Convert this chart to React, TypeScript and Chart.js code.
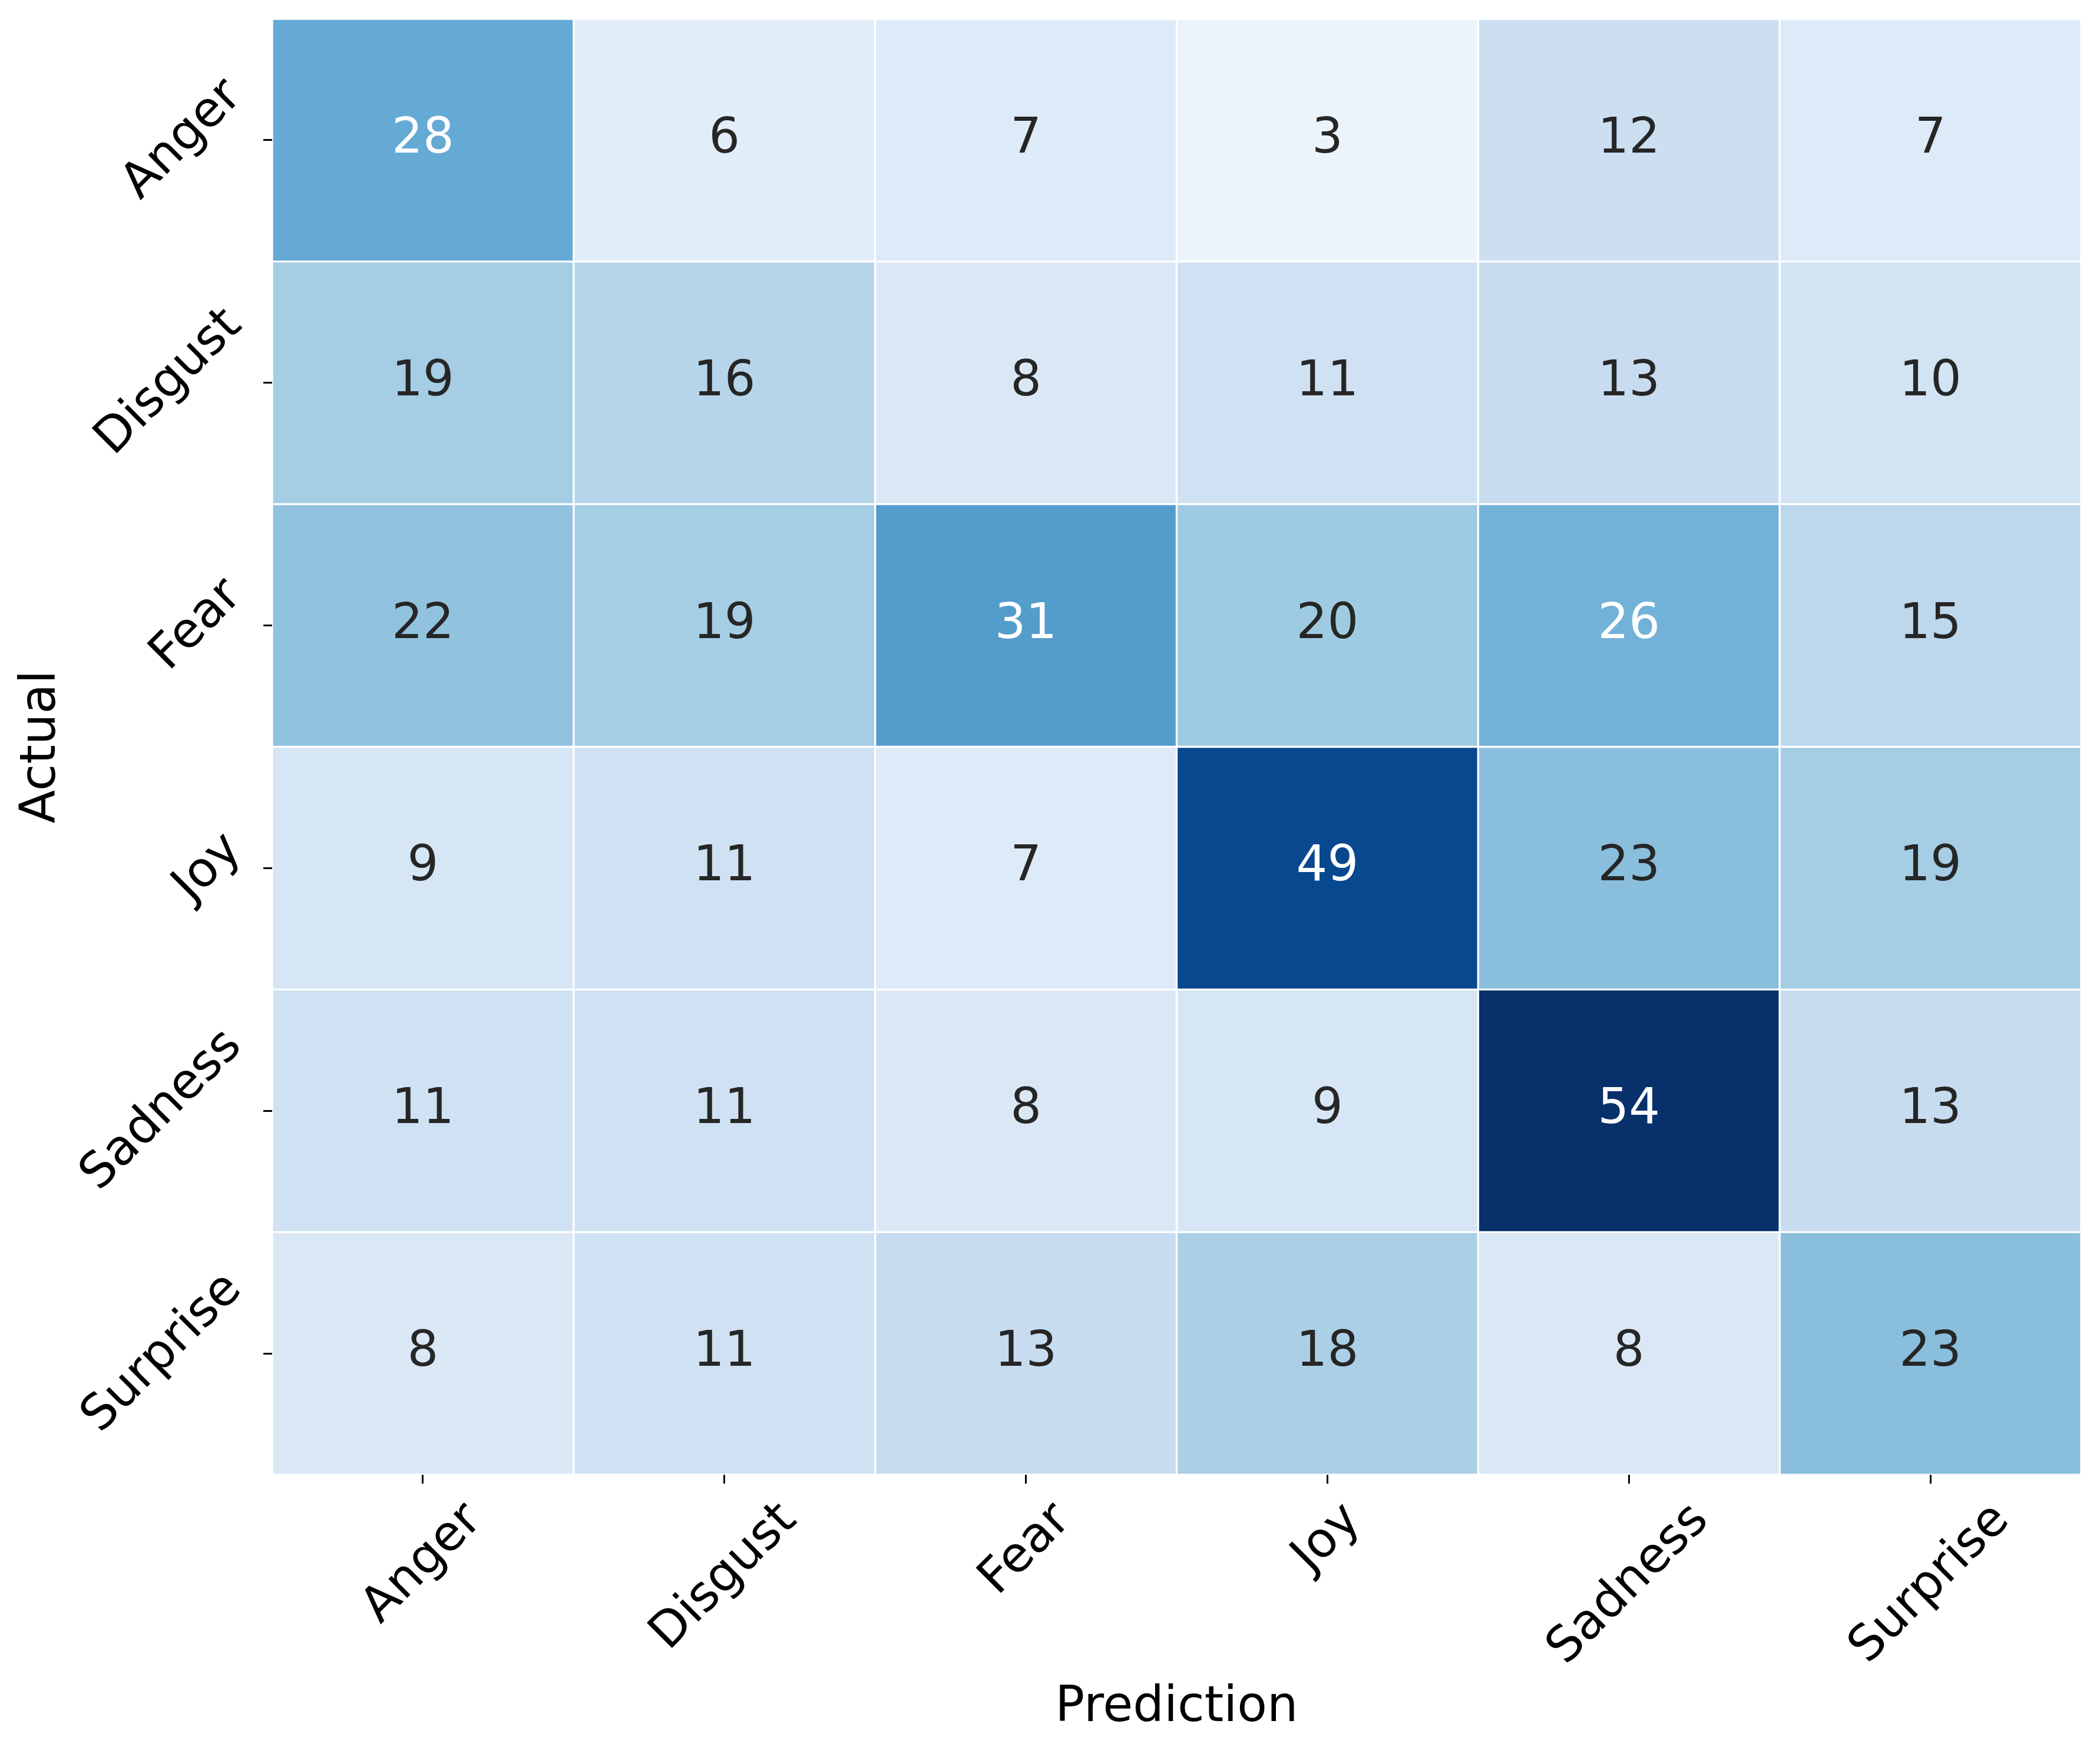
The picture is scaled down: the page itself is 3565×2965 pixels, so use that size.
import React, { useEffect, useRef } from "react";
import { Chart, registerables } from "chart.js";

Chart.register(...registerables);

// ---------- data ----------
const predictionLabels = ["Anger", "Disgust", "Fear", "Joy", "Sadness", "Surprise"];
const actualLabels = ["Anger", "Disgust", "Fear", "Joy", "Sadness", "Surprise"];

const angerRow = [28, 6, 7, 3, 12, 7];
const disgustRow = [19, 16, 8, 11, 13, 10];
const fearRow = [22, 19, 31, 20, 26, 15];
const joyRow = [9, 11, 7, 49, 23, 19];
const sadnessRow = [11, 11, 8, 9, 54, 13];
const surpriseRow = [8, 11, 13, 18, 8, 23];

const matrix = [angerRow, disgustRow, fearRow, joyRow, sadnessRow, surpriseRow];

const colorMin = 0;
const colorMax = 54;

const xTitle = "Prediction";
const yTitle = "Actual";

// ---------- styling ----------
const W = 3565;
const H = 2965;
const FONT_PX = 83;
const FAMILY = '"DejaVu Sans", "Liberation Sans", sans-serif';
const TICK_LEN = 15;
const TICK_PAD = 15;

const bluesStops = [
  [247, 251, 255],
  [222, 235, 247],
  [198, 219, 239],
  [158, 202, 225],
  [107, 174, 214],
  [66, 146, 198],
  [33, 113, 181],
  [8, 81, 156],
  [8, 48, 107],
];

function bluesRGB(t: number): number[] {
  const tt = Math.max(0, Math.min(1, t));
  const pos = tt * (bluesStops.length - 1);
  const k = Math.min(bluesStops.length - 2, Math.floor(pos));
  const f = pos - k;
  const a = bluesStops[k];
  const b = bluesStops[k + 1];
  return [0, 1, 2].map((i) => Math.round(a[i] + (b[i] - a[i]) * f));
}

function cellColor(v: number): string {
  const [r, g, b] = bluesRGB((v - colorMin) / (colorMax - colorMin));
  return `rgb(${r},${g},${b})`;
}

function luminance(rgb: number[]): number {
  const lin = rgb.map((c) => {
    const s = c / 255;
    return s <= 0.03928 ? s / 12.92 : Math.pow((s + 0.055) / 1.055, 2.4);
  });
  return 0.2126 * lin[0] + 0.7152 * lin[1] + 0.0722 * lin[2];
}

function textColor(v: number): string {
  const rgb = bluesRGB((v - colorMin) / (colorMax - colorMin));
  return luminance(rgb) > 0.408 ? "#262626" : "#ffffff";
}

const heatmapText = {
  id: "heatmapText",
  afterDatasetsDraw(chart: any) {
    const ctx = chart.ctx;
    ctx.save();
    ctx.font = `${FONT_PX}px ${FAMILY}`;
    ctx.textAlign = "center";
    ctx.textBaseline = "alphabetic";
    chart.data.datasets.forEach((_ds: any, i: number) => {
      const meta = chart.getDatasetMeta(i);
      meta.data.forEach((el: any, j: number) => {
        const p = el.getCenterPoint();
        const v = matrix[i][j];
        ctx.fillStyle = textColor(v);
        ctx.fillText(String(v), p.x, p.y + 21);
      });
    });
    ctx.restore();
  },
  afterDraw(chart: any) {
    const ctx = chart.ctx;
    const area = chart.chartArea;
    const xs = chart.scales.x;
    const ys = chart.scales.y;
    const lineH = FONT_PX * 1.17;
    const c45 = Math.SQRT1_2;
    ctx.save();
    ctx.font = `${FONT_PX}px ${FAMILY}`;
    ctx.fillStyle = "#000000";

    predictionLabels.forEach((lab, j) => {
      const w = ctx.measureText(lab).width;
      const half = ((w + lineH) * c45) / 2;
      const cx = xs.getPixelForTick(j);
      const cy = area.bottom + TICK_LEN + TICK_PAD + half;
      ctx.save();
      ctx.translate(cx, cy);
      ctx.rotate(-Math.PI / 4);
      ctx.textAlign = "center";
      ctx.textBaseline = "middle";
      ctx.fillText(lab, 0, 0);
      ctx.restore();
    });

    actualLabels.forEach((lab, i) => {
      const w = ctx.measureText(lab).width;
      const half = ((w + lineH) * c45) / 2;
      const cy = ys.getPixelForValue(i + 0.5);
      const cx = area.left - TICK_LEN - TICK_PAD - half;
      ctx.save();
      ctx.translate(cx, cy);
      ctx.rotate(-Math.PI / 4);
      ctx.textAlign = "center";
      ctx.textBaseline = "middle";
      ctx.fillText(lab, 0, 0);
      ctx.restore();
    });

    ctx.textAlign = "center";
    ctx.textBaseline = "alphabetic";
    ctx.fillText(xTitle, (area.left + area.right) / 2, area.bottom + 418);

    ctx.save();
    ctx.translate(93, (area.top + area.bottom) / 2);
    ctx.rotate(-Math.PI / 2);
    ctx.fillText(yTitle, 0, 0);
    ctx.restore();

    ctx.restore();
  },
};

export default function App() {
  const ref = useRef<HTMLCanvasElement | null>(null);

  useEffect(() => {
    document.body.style.margin = "0";
    const canvas = ref.current;
    if (!canvas) return;

    const datasets = actualLabels.map((name, i) => ({
      label: name,
      data: predictionLabels.map(() => [i, i + 1]),
      backgroundColor: matrix[i].map((v) => cellColor(v)),
      borderColor: "#ffffff",
      borderWidth: 2,
      borderSkipped: false,
      grouped: false,
      barPercentage: 1,
      categoryPercentage: 1,
    }));

    const gridOpts = {
      display: true,
      drawOnChartArea: false,
      drawTicks: true,
      tickLength: TICK_LEN,
      color: "#000000",
      lineWidth: 3,
    };

    const chart = new Chart(canvas, {
      type: "bar",
      data: { labels: predictionLabels, datasets: datasets as any },
      plugins: [heatmapText],
      options: {
        responsive: false,
        animation: false,
        devicePixelRatio: 1,
        layout: { padding: { top: 32, right: 32, left: 0, bottom: 0 } },
        plugins: {
          legend: { display: false },
          tooltip: { enabled: false },
        },
        scales: {
          x: {
            type: "category",
            offset: true,
            grid: { ...gridOpts, offset: false },
            border: { display: false },
            ticks: { display: false },
            afterFit: (s: any) => {
              s.height = 462;
            },
          },
          y: {
            type: "linear",
            min: 0,
            max: 6,
            reverse: true,
            grid: gridOpts,
            border: { display: false },
            ticks: { display: false },
            afterBuildTicks: (s: any) => {
              s.ticks = actualLabels.map((_l, i) => ({ value: i + 0.5 }));
            },
            afterFit: (s: any) => {
              s.width = 462;
            },
          },
        },
      } as any,
    });

    return () => chart.destroy();
  }, []);

  return (
    <div style={{ width: W, height: H }}>
      <canvas
        ref={ref}
        width={W}
        height={H}
        style={{ display: "block", width: W, height: H }}
      />
    </div>
  );
}
